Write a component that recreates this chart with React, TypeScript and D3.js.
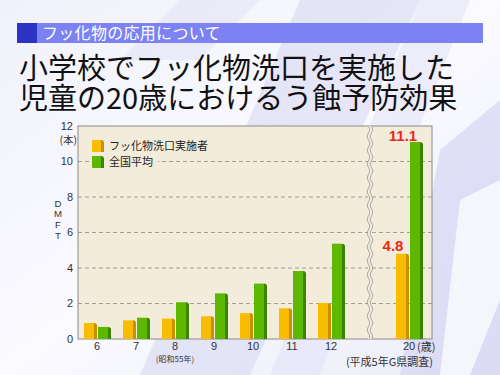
import React from "react";
import * as d3 from "d3";

const categories = ["6", "7", "8", "9", "10", "11", "12", "", "20"];
const fluorideGroup = [0.9, 1.05, 1.15, 1.28, 1.46, 1.73, 2.03, null, 4.8];
const nationalAvg = [0.68, 1.2, 2.07, 2.57, 3.12, 3.83, 5.37, null, 11.1];
const yTicks = [0, 2, 4, 6, 8, 10, 12];
const seriesNames = ["フッ化物洗口実施者", "全国平均"];
const headerText = "フッ化物の応用について";
const titleLines = ["小学校でフッ化物洗口を実施した", "児童の20歳におけるう蝕予防効果"];
const yAxisLetters = ["D", "M", "F", "T"];

const W = 500, H = 375;
const plot = { left: 78, right: 432, top: 126, bottom: 339 };
const JP = "'Noto Sans CJK JP', 'Noto Sans', sans-serif";
const LATIN = "'Liberation Sans', Arial, sans-serif";

const colors = [
  { face: "#f8bc00", side: "#c98f00" },
  { face: "#5cb800", side: "#3b8400" },
];

function Bar3D({ x, w, y0, y1, c }: { x: number; w: number; y0: number; y1: number; c: { face: string; side: string } }) {
  const d = 3;
  return (
    <g>
      <path d={`M${x + w},${y1} Q${x + w + d},${y1} ${x + w + d},${y1 + d} L${x + w + d},${y0} L${x + w},${y0} Z`} fill={c.side} />
      <rect x={x} y={y1} width={w} height={y0 - y1} fill={c.face} />
    </g>
  );
}

export default function App() {
  const x = d3.scalePoint<string>().domain(categories).range([97, 409]);
  const y = d3.scaleLinear().domain([0, 12]).range([plot.bottom, plot.top]);
  const breakX = x("")!;
  const barW = 10;
  const offsets = [-13, 1];

  const wave = () => {
    const pts: [number, number][] = [];
    for (let yy = plot.top; yy <= plot.bottom; yy += 1) {
      pts.push([Math.sin((yy - plot.top) / 2.2) * 1.2, yy]);
    }
    return d3.line()(pts)!;
  };

  return (
    <svg width={W} height={H} style={{ position: "fixed", left: 0, top: 0 }} fontFamily={JP}>
      <defs>
        <linearGradient id="bg" x1="0" y1="0" x2="1" y2="1">
          <stop offset="0" stopColor="#f1f1fb" />
          <stop offset="0.5" stopColor="#fafaff" />
          <stop offset="1" stopColor="#ececfa" />
        </linearGradient>
      </defs>
      <rect width={W} height={H} fill="url(#bg)" />
      {/* background swooshes */}
      <path d="M300,0 L420,0 L250,375 L140,375 Z" fill="#d8d8f4" opacity={0.6} />
      <path d="M420,0 L470,0 L320,375 L270,375 Z" fill="#e2e2f7" opacity={0.6} />
      <path d="M440,150 L500,100 L500,375 L400,375 Z" fill="#d2d2f2" opacity={0.65} />
      <path d="M460,200 L500,180 L500,300 L470,375 L440,375 Z" fill="#ffffff" opacity={0.7} />
      <path d="M180,0 L260,0 L200,60 L120,60 Z" fill="#e0e0f6" opacity={0.5} />

      {/* header band */}
      <rect x={17} y={23} width={466} height={20} fill="#7c82f2" />
      <rect x={17} y={23} width={20} height={20} fill="#2b33c2" />
      <text x={42} y={39} fontSize={16} fill="#ffffff" letterSpacing={0.3}>{headerText}</text>

      {/* title */}
      <text fontSize={29} fill="#111">
        {titleLines.map((t, i) => (
          <tspan key={i} x={19} y={79 + i * 30}>{t}</tspan>
        ))}
      </text>

      {/* plot area */}
      <rect x={plot.left} y={plot.top} width={plot.right - plot.left} height={plot.bottom - plot.top} fill="#f4ecdb" stroke="#8a8a8a" strokeWidth={1} />
      {yTicks.filter(t => t > 0 && t < 12).map(t => (
        <line key={t} x1={plot.left} x2={plot.right} y1={y(t)} y2={y(t)} stroke="#8c8c8c" strokeDasharray="4,3" strokeWidth={0.8} />
      ))}

      {/* legend */}
      {seriesNames.map((n, i) => (
        <g key={n} transform={`translate(92,${140 + i * 16})`}>
          <rect x={-2} y={-2} width={n.length * 11 + 24} height={16} fill="#f4ecdb" />
          <Bar3D x={0} w={9} y0={12} y1={0} c={colors[i]} />
          <text x={17} y={10} fontSize={11} fill="#222">{n}</text>
        </g>
      ))}

      {/* bars */}
      {categories.map((c, ci) =>
        [fluorideGroup, nationalAvg].map((s, si) => {
          const v = s[ci];
          if (v == null) return null;
          const cx = x(c)!;
          return <Bar3D key={`${ci}-${si}`} x={cx + offsets[si]} w={barW} y0={y(0)} y1={y(v)} c={colors[si]} />;
        })
      )}

      {/* axis break */}
      <rect x={breakX - 2} y={plot.top} width={4} height={plot.bottom - plot.top} fill="#f4ecdb" />
      <path d={wave()} transform={`translate(${breakX - 1.5},0)`} fill="none" stroke="#999" strokeWidth={0.8} />
      <path d={wave()} transform={`translate(${breakX + 1.5},0)`} fill="none" stroke="#999" strokeWidth={0.8} />

      {/* value labels */}
      <text x={x("20")! - 16} y={y(4.8) - 3} fontSize={15} fontWeight="bold" fill="#e8281c" textAnchor="middle" fontFamily={LATIN}>4.8</text>
      <text x={x("20")! - 6} y={y(11.1) - 1} fontSize={15} fontWeight="bold" fill="#e8281c" textAnchor="middle" fontFamily={LATIN}>11.1</text>

      {/* y axis */}
      {yTicks.map(t => (
        <text key={t} x={73} y={y(t) + 3.5} fontSize={11} fill="#333" textAnchor="end" fontFamily={LATIN}>{t}</text>
      ))}
      <text x={77} y={143.8} fontSize={10.5} fill="#333" textAnchor="end">(本)</text>
      {yAxisLetters.map((ch, i) => (
        <text key={ch} x={58} y={206.5 + i * 10.9} fontSize={9.6} fill="#333" textAnchor="middle" fontFamily={LATIN}>{ch}</text>
      ))}

      {/* x axis labels */}
      {categories.filter(c => c !== "").map(c => (
        <text key={c} x={x(c)!} y={350.4} fontSize={11} fill="#333" textAnchor="middle" fontFamily={LATIN}>{c}</text>
      ))}
      <text x={x("8")!} y={362.3} fontSize={8} fill="#333" textAnchor="middle">(昭和55年)</text>
      <text x={x("20")! + 8} y={350.5} fontSize={11} fill="#333">(歳)</text>
      <text x={433} y={366} fontSize={11} fill="#333" textAnchor="end">(平成5年G県調査)</text>
    </svg>
  );
}
